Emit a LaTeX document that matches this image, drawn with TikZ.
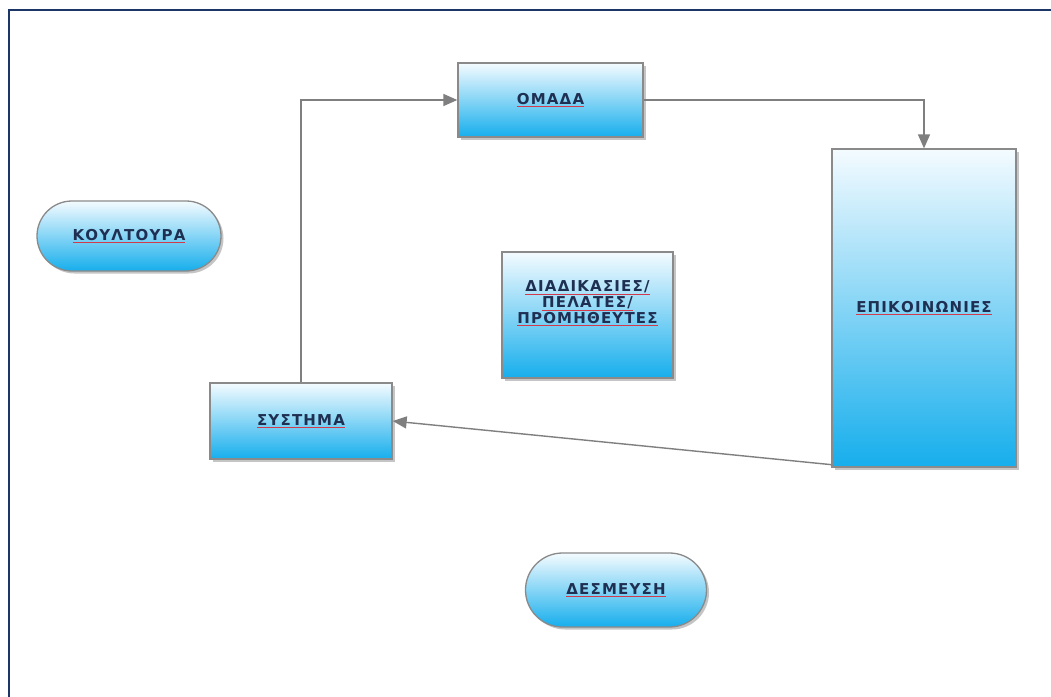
\documentclass[tikz,border=0pt]{standalone}
\usepackage{fontspec}
\setmainfont{DejaVu Sans}
\usetikzlibrary{arrows.meta,shadows}

\definecolor{frameblue}{HTML}{1C3668}
\definecolor{boxtop}{HTML}{F4FBFF}
\definecolor{boxbot}{HTML}{16AEEC}
\definecolor{boxedge}{HTML}{8A8A8A}
\definecolor{linkgray}{HTML}{7F7F7F}
\definecolor{labelblue}{HTML}{1F2F52}
\definecolor{squiggle}{HTML}{D03A4A}

% label text with the spell-check underline beneath each line
\newcommand\lbl[1]{{\color{squiggle}\underline{\color{labelblue}#1}}}
\newcommand\lblfont{\bfseries\fontsize{15}{16}\selectfont\addfontfeatures{LetterSpace=8}\lineskiplimit=-20pt}

\tikzset{
  boxbase/.style={draw=boxedge, line width=1.3pt, shading=axis,
    top color=boxtop, bottom color=boxbot,
    drop shadow={shadow xshift=2.5pt, shadow yshift=-2.5pt, opacity=0.45, fill=gray},
    font=\lblfont, align=center, inner sep=0pt},
  procbox/.style={boxbase, rectangle},
  pillbox/.style={boxbase, rectangle, rounded corners=#1},
  link/.style={draw=linkgray, line width=1.4pt,
    -{Triangle[length=14pt,width=12pt]}}
}

\begin{document}
\begin{tikzpicture}[x=1pt,y=-1pt]
  \useasboundingbox (0,0) rectangle (1051,696);
  \fill[white] (0,0) rectangle (1051,696);

  % outer frame
  \draw[frameblue, line width=2pt] (9,705) -- (9,10) -- (1060,10);

  % boxes
  \node[procbox, minimum width=185pt, minimum height=74pt] (omada) at (550.5,100) {\lbl{ΟΜΑΔΑ}};
  \node[procbox, minimum width=184pt, minimum height=318pt] (epik) at (924,308) {\lbl{ΕΠΙΚΟΙΝΩΝΙΕΣ}};
  \node[pillbox=35pt, minimum width=184pt, minimum height=70pt] (koul) at (129,236) {\lbl{ΚΟΥΛΤΟΥΡΑ}};
  \node[procbox, minimum width=171pt, minimum height=126pt] (diad) at (587.5,315) {};
  \node[font=\lblfont, align=center, inner sep=0pt]
    (diadtxt) at (587.5,303) {\lbl{ΔΙΑΔΙΚΑΣΙΕΣ/}\\\lbl{ΠΕΛΑΤΕΣ/}\\\lbl{ΠΡΟΜΗΘΕΥΤΕΣ}};
  \node[procbox, minimum width=182pt, minimum height=76pt] (syst) at (301,421) {\lbl{ΣΥΣΤΗΜΑ}};
  \node[pillbox=37pt, minimum width=181pt, minimum height=74pt] (desm) at (616,590) {\lbl{ΔΕΣΜΕΥΣΗ}};

  % connectors
  \draw[link] (syst.north) |- (omada.west);
  \draw[link] (omada.east) -| (epik.north);
  \draw[link] ([yshift=3pt]epik.south west) -- (syst.east);
\end{tikzpicture}
\end{document}
